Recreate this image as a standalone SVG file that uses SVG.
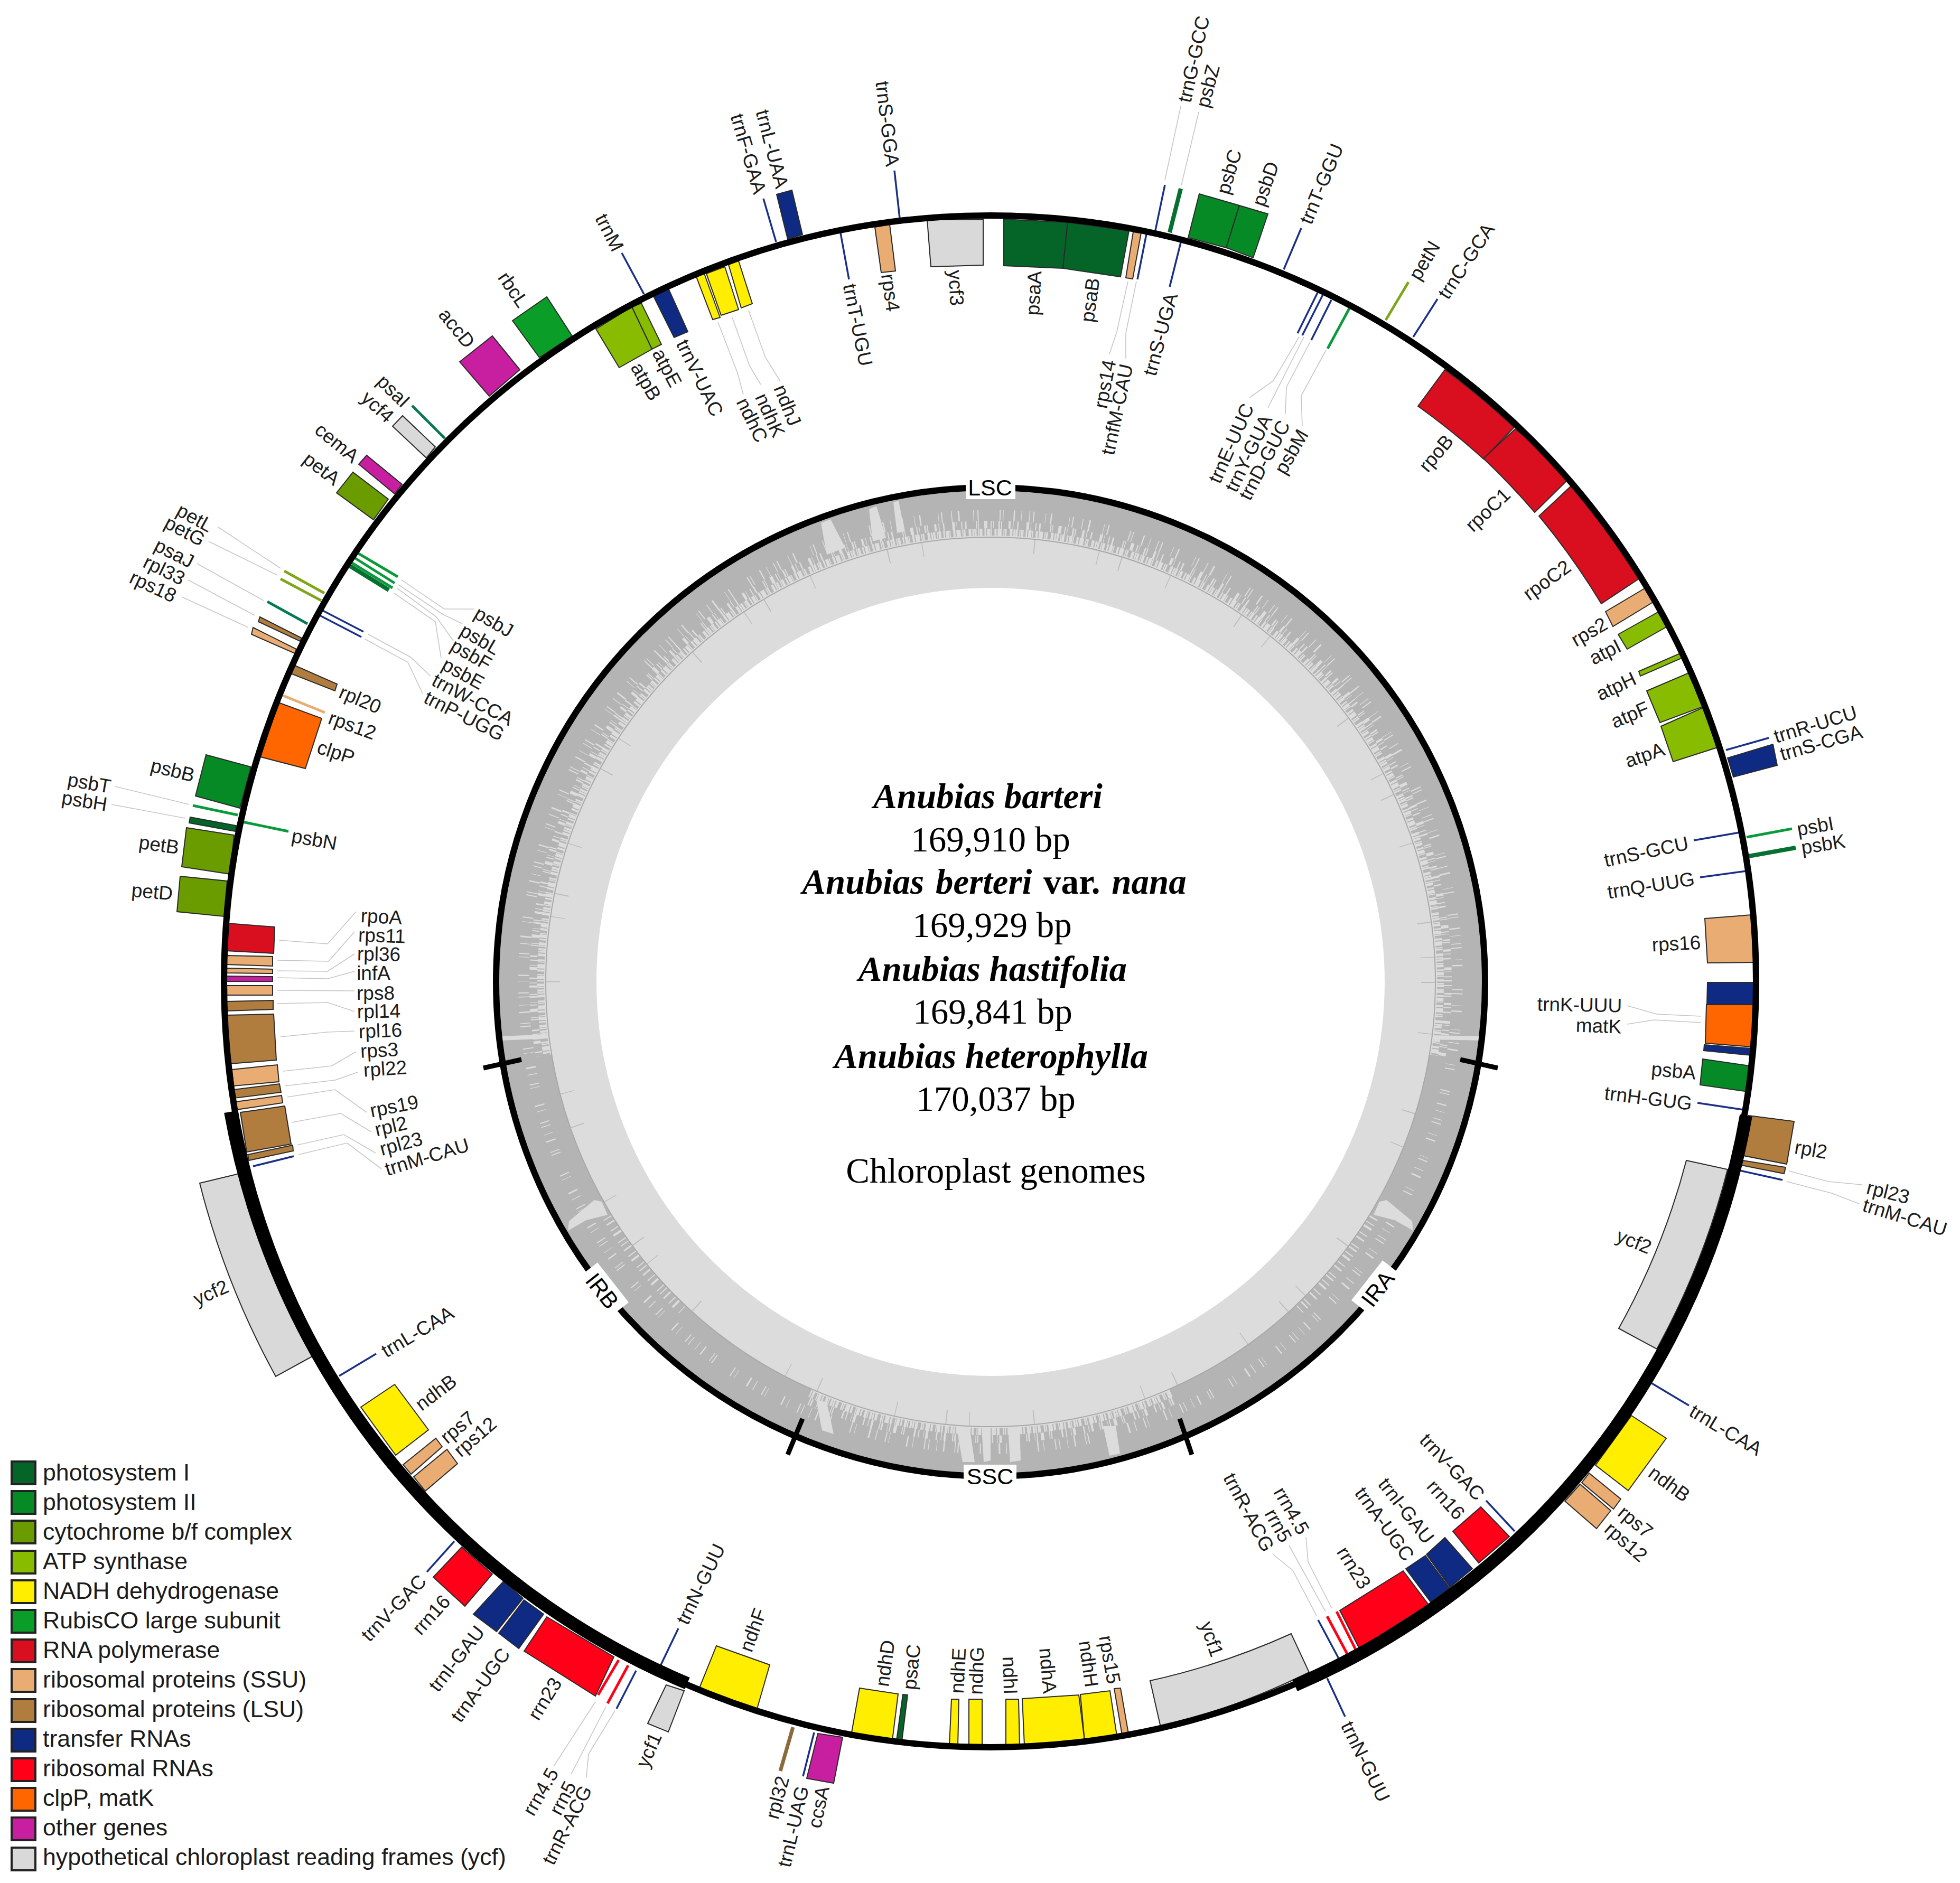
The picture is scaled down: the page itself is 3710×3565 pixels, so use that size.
<svg xmlns="http://www.w3.org/2000/svg" width="3710" height="3565" viewBox="0 0 3710 3565">
<style>
text{font-family:"Liberation Sans",Arial,sans-serif;fill:#1c1c1c}
.t{font-size:37px;text-anchor:middle}
.lg{font-size:44.7px}
.sec{font-size:43px;text-anchor:middle;fill:#000}
.c{font-family:"Liberation Serif","Times New Roman",serif;font-size:67px;text-anchor:middle;fill:#000}
.bi{font-weight:bold;font-style:italic}
.b{font-weight:bold}
.g{stroke:#2a2a2a;stroke-width:2;stroke-linejoin:miter}
.k{stroke:#222;stroke-width:4}
.psi{fill:#056529}.psii{fill:#068A25}.cyt{fill:#6A9C00}.atp{fill:#88BC00}.ndh{fill:#FFEE00}.rub{fill:#0A9E28}.pol{fill:#D90F1F}.ssu{fill:#E9AC72}.lsu{fill:#B07D3F}.trn{fill:#0E2A83}.rrn{fill:#FF0018}.clp{fill:#FF6600}.oth{fill:#C81EA0}.ycf{fill:#D9D9D9}
.lt{stroke:#1A2F86;stroke-width:3.5}
.lp1{stroke:#057A50;stroke-width:5}
.lp2{stroke:#0A9A3C;stroke-width:5}
.lp3{stroke:#05702F;stroke-width:8}
.lc{stroke:#7FA61A;stroke-width:5}
.ls{stroke:#E9AC72;stroke-width:5}
.lr{stroke:#FF0018;stroke-width:5}
.lb{stroke:#8A6A3A;stroke-width:7}
.lead{fill:none;stroke:#c6c6c6;stroke-width:1.6}
.gc{fill:none}
</style>
<rect width="3710" height="3565" fill="#fff"/>

<g id="gc-content">
<circle class="gc" cx="1875" cy="1859" r="841" stroke="#DCDCDC" stroke-width="190"/>
<circle class="gc" cx="1875" cy="1859" r="915" stroke="#B4B4B4" stroke-width="42"/>
<circle class="gc" cx="1875" cy="1859" r="884" stroke="#B4B4B4" stroke-width="22" stroke-dasharray="14 1.5 6 2 21 1 9 2.5 33 1 5 2 17 1.5 11 3 26 1 7 2 40 2 4 1.5 19 2.5 12 1"/>
<circle class="gc" cx="1875" cy="1859" r="866" stroke="#B4B4B4" stroke-width="16" stroke-dasharray="6 2 3 1 9 3 2 2 12 4 4 1.5 7 2.5 15 5 3 1 8 2 5 3 18 2 2 1.5 10 6"/>
<circle class="gc" cx="1875" cy="1859" r="852" stroke="#B4B4B4" stroke-width="14" stroke-dasharray="2 3 1 4 3 2 1 5 4 3 2 6 1 2 5 4 2 8 3 2 1 3 6 5"/>
<path class="gc" d="M2722 1999A858 858 0 0 1 2220 2645" stroke="#B4B4B4" stroke-width="34"/>
<path class="gc" d="M1028 1999A858 858 0 0 0 1530 2645" stroke="#B4B4B4" stroke-width="34"/>
<path class="gc" d="M2600 2305A852 852 0 0 1 2459 2480" stroke="#DCDCDC" stroke-width="18" stroke-dasharray="3 9 2 6 4 12 2 8 3 14 2 5"/>
<path class="gc" d="M1150 2305A852 852 0 0 0 1291 2480" stroke="#DCDCDC" stroke-width="18" stroke-dasharray="2 8 3 11 2 7 4 13 2 6"/>
<g fill="#DCDCDC">
<polygon points="1554,990 1572,983 1600,1037 1565,1050"/>
<polygon points="1645,964 1659,958 1677,1018 1652,1025"/>
<polygon points="1691,951 1701,948 1712,1006 1698,1009"/>
<polygon points="1858,2700 1875,2700 1875,2765 1862,2768"/>
<polygon points="1908,2700 1930,2700 1932,2765 1912,2768"/>
<polygon points="2088,2700 2112,2700 2120,2752 2100,2756"/>
<polygon points="1810,2700 1835,2700 1845,2768 1822,2768"/>
<polygon points="1545,2650 1565,2655 1578,2715 1556,2708"/>
<polygon points="2611,2275 2625,2272 2673,2312 2675,2330 2640,2310 2600,2300"/>
<polygon points="1139,2275 1125,2272 1077,2312 1075,2330 1110,2310 1150,2300"/>
<polygon points="947,1962 1040,1958 1040,1966 947,1970"/>
<polygon points="2710,1960 2803,1962 2803,1970 2710,1968"/>
</g>
<circle class="gc" cx="1875" cy="1859" r="842" stroke="#A8A8A8" stroke-width="2"/>
<circle class="gc" cx="1875" cy="1859" r="828" stroke="#BDBDBD" stroke-width="26" stroke-dasharray="2 95 1.5 150 2 64 1.5 210 2 120 1.5 42"/>
</g>

<g id="connectors">
<polyline class="lead" points="2235,201 2205,341"/>
<polyline class="lead" points="2269,212 2236,351"/>
<polyline class="lead" points="2100,670 2114,628 2135,533"/>
<polyline class="lead" points="2131,679 2131,631 2151,533"/>
<polyline class="lead" points="2365,753 2410,721 2459,638"/>
<polyline class="lead" points="2400,772 2468,638"/>
<polyline class="lead" points="2433,784 2435,733 2480,647"/>
<polyline class="lead" points="2465,807 2463,749 2510,663"/>
<polyline class="lead" points="1477,722 1449,677 1417,588"/>
<polyline class="lead" points="1440,728 1419,693 1386,601"/>
<polyline class="lead" points="1407,747 1396,706 1359,610"/>
<polyline class="lead" points="413,998 531,1076"/>
<polyline class="lead" points="395,1025 525,1089"/>
<polyline class="lead" points="373,1067 499,1137"/>
<polyline class="lead" points="356,1098 482,1165"/>
<polyline class="lead" points="344,1130 470,1188"/>
<polyline class="lead" points="898,1153 841,1153 760,1098"/>
<polyline class="lead" points="875,1181 838,1163 754,1107"/>
<polyline class="lead" points="858,1213 826,1168 752,1114"/>
<polyline class="lead" points="835,1246 824,1177 746,1123"/>
<polyline class="lead" points="815,1280 777,1244 697,1201"/>
<polyline class="lead" points="800,1313 772,1254 691,1210"/>
<polyline class="lead" points="218,1489 358,1523"/>
<polyline class="lead" points="211,1523 350,1549"/>
<polyline class="lead" points="674,1726 620,1787 528,1780"/>
<polyline class="lead" points="671,1764 622,1820 525,1818"/>
<polyline class="lead" points="671,1806 620,1839 525,1838"/>
<polyline class="lead" points="671,1839 620,1853 525,1851"/>
<polyline class="lead" points="671,1876 525,1875"/>
<polyline class="lead" points="671,1915 620,1898 525,1900"/>
<polyline class="lead" points="671,1952 620,1954 531,1963"/>
<polyline class="lead" points="674,1991 628,2018 536,2028"/>
<polyline class="lead" points="677,2030 634,2045 539,2056"/>
<polyline class="lead" points="694,2106 634,2063 544,2077"/>
<polyline class="lead" points="703,2143 645,2108 552,2125"/>
<polyline class="lead" points="711,2183 651,2148 562,2168"/>
<polyline class="lead" points="722,2213 657,2164 565,2186"/>
<polyline class="lead" points="3080,1904 3136,1920 3220,1924"/>
<polyline class="lead" points="3080,1939 3131,1931 3220,1936"/>
<polyline class="lead" points="3386,2217 3461,2237 3525,2243"/>
<polyline class="lead" points="3382,2237 3467,2259 3519,2279"/>
<polyline class="lead" points="2472,2910 2476,2957 2521,3045"/>
<polyline class="lead" points="2440,2926 2509,3051"/>
<polyline class="lead" points="2410,2943 2447,2973 2492,3059"/>
<polyline class="lead" points="1048,3344 1127,3222"/>
<polyline class="lead" points="1081,3359 1147,3231"/>
<polyline class="lead" points="1110,3365 1114,3321 1164,3239"/>
</g>

<g id="genes">
<g id="trnG-GCC"><line class="lt" x1="2205" y1="350" x2="2187" y2="436"/><text class="t" y="13" transform="translate(2259 112) rotate(-77.5)">trnG-GCC</text></g>
<g id="psbZ"><line class="lp3" x1="2235" y1="357" x2="2214" y2="440"/><text class="t" y="13" transform="translate(2286 163) rotate(-75)">psbZ</text></g>
<g id="psbC"><polygon class="g psii" points="2270,367 2346,389 2321,469 2249,450"/><text class="t" y="13" transform="translate(2326 325) rotate(-73.5)">psbC</text></g>
<g id="psbD"><polygon class="g psii" points="2346,389 2400,405 2372,488 2321,469"/><text class="t" y="13" transform="translate(2395 348) rotate(-71)">psbD</text></g>
<g id="trnT-GGU"><line class="lt" x1="2463" y1="432" x2="2430" y2="510"/><text class="t" y="13" transform="translate(2501 348) rotate(-67.5)">trnT-GGU</text></g>
<g id="petN"><line class="lc" x1="2666" y1="534" x2="2623" y2="606"/><text class="t" y="13" transform="translate(2696 493) rotate(-59)">petN</text></g>
<g id="trnC-GCA"><line class="lt" x1="2721" y1="566" x2="2675" y2="638"/><text class="t" y="13" transform="translate(2775 494) rotate(-56.5)">trnC-GCA</text></g>
<g id="psaA"><polygon class="g psi" points="1900,415 2021,421 2012,508 1900,503"/><text class="t" y="13" transform="translate(1956 555) rotate(-87)">psaA</text></g>
<g id="psaB"><polygon class="g psi" points="2021,421 2137,437 2121,524 2012,508"/><text class="t" y="13" transform="translate(2063 568) rotate(-82)">psaB</text></g>
<g id="rps14"><polygon class="g ssu" points="2145,439 2160,441 2144,528 2131,526"/><text class="t" y="13" transform="translate(2091 727) rotate(-79)">rps14</text></g>
<g id="trnfM-CAU"><line class="lt" x1="2170" y1="443" x2="2153" y2="529"/><text class="t" y="13" transform="translate(2114 775) rotate(-78)">trnfM-CAU</text></g>
<g id="trnS-UGA"><line class="lt" x1="2235" y1="459" x2="2214" y2="543"/><text class="t" y="13" transform="translate(2196 633) rotate(-75)">trnS-UGA</text></g>
<g id="trnE-UUC"><line class="lt" x1="2494" y1="554" x2="2456" y2="631"/><text class="t" y="13" transform="translate(2330 839) rotate(-66)">trnE-UUC</text></g>
<g id="trnY-GUA"><line class="lt" x1="2504" y1="558" x2="2465" y2="635"/><text class="t" y="13" transform="translate(2363 858) rotate(-64)">trnY-GUA</text></g>
<g id="trnD-GUC"><line class="lt" x1="2520" y1="568" x2="2482" y2="644"/><text class="t" y="13" transform="translate(2393 871) rotate(-62)">trnD-GUC</text></g>
<g id="psbM"><line class="lp2" x1="2554" y1="584" x2="2513" y2="660"/><text class="t" y="13" transform="translate(2444 855) rotate(-60)">psbM</text></g>
<g id="rpoB"><path class="g pol" d="M2735 700A1448 1448 0 0 1 2866 809L2808 869A1362 1362 0 0 0 2684 769Z"/><text class="t" y="13" transform="translate(2718 858) rotate(-50)">rpoB</text></g>
<g id="rpoC1"><path class="g pol" d="M2868 812A1448 1448 0 0 1 2972 904L2905 970A1360 1360 0 0 0 2808 868Z"/><text class="t" y="13" transform="translate(2816 965) rotate(-43.5)">rpoC1</text></g>
<g id="rpoC2"><path class="g pol" d="M2976 918A1448 1448 0 0 1 3105 1094L3031 1143A1360 1360 0 0 0 2913 977Z"/><text class="t" y="13" transform="translate(2928 1098) rotate(-36)">rpoC2</text></g>

<g id="ycf3"><polygon class="g ycf" points="1755,416 1861,416 1861,502 1762,505"/><text class="t" y="13" transform="translate(1810 545) rotate(87)">ycf3</text></g>
<g id="trnS-GGA"><line class="lt" x1="1693" y1="323" x2="1703" y2="413"/><text class="t" y="13" transform="translate(1680 234) rotate(83)">trnS-GGA</text></g>
<g id="rps4"><polygon class="g ssu" points="1656,430 1684,425 1695,513 1668,516"/><text class="t" y="13" transform="translate(1686 554) rotate(82)">rps4</text></g>
<g id="trnT-UGU"><line class="lt" x1="1591" y1="441" x2="1607" y2="529"/><text class="t" y="13" transform="translate(1624 615) rotate(78.5)">trnT-UGU</text></g>
<g id="trnL-UAA"><polygon class="g trn" points="1470,368 1499,360 1519,444 1491,453"/><text class="t" y="13" transform="translate(1462 282) rotate(75.5)">trnL-UAA</text></g>
<g id="trnF-GAA"><line class="lt" x1="1445" y1="376" x2="1469" y2="458"/><text class="t" y="13" transform="translate(1417 291) rotate(73.5)">trnF-GAA</text></g>
<g id="ndhJ"><polygon class="g ndh" points="1379,501 1398,494 1424,575 1403,583"/><text class="t" y="13" transform="translate(1491 767) rotate(68)">ndhJ</text></g>
<g id="ndhK"><polygon class="g ndh" points="1337,518 1372,505 1398,586 1365,597"/><text class="t" y="13" transform="translate(1458 786) rotate(66)">ndhK</text></g>
<g id="ndhC"><polygon class="g ndh" points="1318,524 1333,518 1363,601 1349,605"/><text class="t" y="13" transform="translate(1424 795) rotate(64)">ndhC</text></g>
<g id="trnV-UAC"><polygon class="g trn" points="1236,559 1266,548 1302,628 1276,639"/><text class="t" y="13" transform="translate(1325 715) rotate(64)">trnV-UAC</text></g>
<g id="trnM"><line class="lt" x1="1177" y1="479" x2="1219" y2="557"/><text class="t" y="13" transform="translate(1154 440) rotate(63)">trnM</text></g>
<g id="atpE"><polygon class="g atp" points="1196,581 1214,574 1252,652 1234,661"/><text class="t" y="13" transform="translate(1263 696) rotate(62)">atpE</text></g>
<g id="atpB"><polygon class="g atp" points="1128,623 1196,581 1234,661 1172,696"/><text class="t" y="13" transform="translate(1223 722) rotate(60)">atpB</text></g>
<g id="rbcL"><polygon class="g rub" points="970,607 1035,562 1083,636 1021,677"/><text class="t" y="13" transform="translate(972 548) rotate(55.5)">rbcL</text></g>
<g id="accD"><polygon class="g oth" points="870,685 932,636 984,700 926,750"/><text class="t" y="13" transform="translate(865 621) rotate(51)">accD</text></g>
<g id="psaI"><line class="lp1" x1="780" y1="768" x2="842" y2="830"/><text class="t" y="13" transform="translate(745 740) rotate(44.5)">psaI</text></g>
<g id="ycf4"><polygon class="g ycf" points="743,807 762,787 824,846 807,867"/><text class="t" y="13" transform="translate(715 770) rotate(43)">ycf4</text></g>
<g id="cemA"><polygon class="g oth" points="679,879 694,862 761,917 747,935"/><text class="t" y="13" transform="translate(638 838) rotate(39.5)">cemA</text></g>
<g id="petA"><polygon class="g cyt" points="637,933 668,894 735,945 707,984"/><text class="t" y="13" transform="translate(609 887) rotate(37.5)">petA</text></g>

<g id="psbJ"><line class="lp2" x1="677" y1="1047" x2="753" y2="1092"/><text class="t" y="13" transform="translate(935 1177) rotate(30)">psbJ</text></g>
<g id="psbL"><line class="lp2" x1="671" y1="1056" x2="747" y2="1104"/><text class="t" y="13" transform="translate(909 1210) rotate(30)">psbL</text></g>
<g id="psbF"><line class="lp2" x1="665" y1="1065" x2="743" y2="1113"/><text class="t" y="13" transform="translate(892 1239) rotate(30)">psbF</text></g>
<g id="psbE"><line class="lp3" x1="660" y1="1070" x2="736" y2="1117"/><text class="t" y="13" transform="translate(877 1275) rotate(29)">psbE</text></g>
<g id="petL"><line class="lc" x1="538" y1="1081" x2="614" y2="1123"/><text class="t" y="13" transform="translate(369 980) rotate(29)">petL</text></g>
<g id="petG"><line class="lc" x1="531" y1="1096" x2="608" y2="1137"/><text class="t" y="13" transform="translate(350 1005) rotate(28)">petG</text></g>
<g id="trnW-CCA"><line class="lt" x1="611" y1="1156" x2="688" y2="1196"/><text class="t" y="13" transform="translate(895 1324) rotate(28)">trnW-CCA</text></g>
<g id="trnP-UGG"><line class="lt" x1="605" y1="1165" x2="684" y2="1206"/><text class="t" y="13" transform="translate(879 1355) rotate(27)">trnP-UGG</text></g>
<g id="psaJ"><line class="lp1" x1="506" y1="1139" x2="582" y2="1181"/><text class="t" y="13" transform="translate(330 1047) rotate(27)">psaJ</text></g>
<g id="rpl33"><polygon class="g lsu" points="492,1168 571,1208 568,1214 489,1177"/><text class="t" y="13" transform="translate(311 1079) rotate(26)">rpl33</text></g>
<g id="rps18"><polygon class="g ssu" points="479,1188 561,1229 558,1237 476,1201"/><text class="t" y="13" transform="translate(290 1110) rotate(25)">rps18</text></g>
<g id="rpl20"><polygon class="g lsu" points="556,1259 638,1295 634,1308 550,1275"/><text class="t" y="13" transform="translate(682 1324) rotate(23)">rpl20</text></g>
<g id="rps12-5"><line class="ls" x1="536" y1="1317" x2="615" y2="1349"/><text class="t" y="13" transform="translate(667 1373) rotate(20)">rps12</text></g>
<g id="clpP"><polygon class="g clp" points="527,1330 609,1360 578,1455 493,1433"/><text class="t" y="13" transform="translate(636 1424) rotate(18)">clpP</text></g>
<g id="psbB"><polygon class="g psii" points="390,1429 475,1452 454,1530 370,1507"/><text class="t" y="13" transform="translate(327 1458) rotate(14)">psbB</text></g>
<g id="psbT"><line class="lp2" x1="365" y1="1525" x2="450" y2="1543"/><text class="t" y="13" transform="translate(169 1482) rotate(10)">psbT</text></g>
<g id="psbN"><line class="lp2" x1="459" y1="1556" x2="546" y2="1574"/><text class="t" y="13" transform="translate(595 1589) rotate(10)">psbN</text></g>
<g id="psbH"><polygon class="g psi" points="360,1547 447,1563 446,1574 358,1558"/><text class="t" y="13" transform="translate(160 1516) rotate(9)">psbH</text></g>
<g id="petB"><polygon class="g cyt" points="353,1567 443,1581 436,1655 344,1641"/><text class="t" y="13" transform="translate(301 1599) rotate(8)">petB</text></g>
<g id="petD"><polygon class="g cyt" points="341,1659 430,1668 424,1735 335,1726"/><text class="t" y="13" transform="translate(288 1688) rotate(5)">petD</text></g>
<g id="rpoA"><polygon class="g pol" points="430,1748 520,1755 518,1805 428,1800"/><text class="t" y="13" transform="translate(722 1735) rotate(3)">rpoA</text></g>
<g id="rps11"><polygon class="g ssu" points="428,1809 516,1811 516,1829 428,1826"/><text class="t" y="13" transform="translate(723 1771) rotate(2)">rps11</text></g>
<g id="rpl36"><polygon class="g ssu" points="428,1833 516,1835 516,1843 428,1842"/><text class="t" y="13" transform="translate(717 1806) rotate(1)">rpl36</text></g>
<g id="infA"><polygon class="g oth" points="428,1848 516,1849 516,1858 428,1858"/><text class="t" y="13" transform="translate(707 1842)">infA</text></g>
<g id="rps8"><polygon class="g ssu" points="428,1866 516,1866 516,1884 428,1884"/><text class="t" y="13" transform="translate(711 1880)">rps8</text></g>
<g id="rpl14"><polygon class="g lsu" points="428,1896 517,1894 517,1911 428,1914"/><text class="t" y="13" transform="translate(717 1914) rotate(-1)">rpl14</text></g>
<g id="rpl16"><polygon class="g lsu" points="428,1922 518,1920 523,2007 436,2014"/><text class="t" y="13" transform="translate(720 1951) rotate(-2)">rpl16</text></g>
<g id="rps3"><polygon class="g ssu" points="439,2025 525,2016 528,2048 442,2056"/><text class="t" y="13" transform="translate(718 1988) rotate(-3)">rps3</text></g>
<g id="rpl22"><polygon class="g lsu" points="442,2063 529,2052 532,2068 444,2079"/><text class="t" y="13" transform="translate(729 2023) rotate(-4)">rpl22</text></g>
<g id="rps19"><polygon class="g ssu" points="446,2086 533,2074 535,2088 447,2101"/><text class="t" y="13" transform="translate(746 2094) rotate(-11)">rps19</text></g>
<g id="rpl2-b"><polygon class="g lsu" points="455,2106 539,2094 551,2166 467,2181"/><text class="t" y="13" transform="translate(740 2132) rotate(-13)">rpl2</text></g>
<g id="rpl23-b"><polygon class="g lsu" points="469,2186 554,2168 555,2179 471,2197"/><text class="t" y="13" transform="translate(759 2165) rotate(-15)">rpl23</text></g>
<g id="trnM-CAU-b"><line class="lt" x1="479" y1="2208" x2="556" y2="2189"/><text class="t" y="13" transform="translate(808 2190) rotate(-17)">trnM-CAU</text></g>
<g id="ycf2-b"><path class="g ycf" d="M378 2240L457 2221A1463 1463 0 0 0 591 2568L522 2606A1544 1544 0 0 1 378 2240Z"/><text class="t" y="13" transform="translate(399 2447) rotate(-24)">ycf2</text></g>
<g id="trnL-CAA-b"><line class="lt" x1="642" y1="2605" x2="712" y2="2563"/><text class="t" y="13" transform="translate(790 2521) rotate(-31)">trnL-CAA</text></g>
<g id="ndhB-b"><polygon class="g ndh" points="683,2664 747,2621 811,2707 749,2755"/><text class="t" y="13" transform="translate(825 2636) rotate(-37)">ndhB</text></g>
<g id="rps7-b"><polygon class="g ssu" points="763,2773 825,2723 837,2739 778,2791"/><text class="t" y="13" transform="translate(866 2702) rotate(-40)">rps7</text></g>
<g id="rps12-b"><polygon class="g ssu" points="783,2796 846,2744 866,2771 805,2823"/><text class="t" y="13" transform="translate(899 2720) rotate(-41)">rps12</text></g>
<g id="trnV-GAC-b"><line class="lt" x1="860" y1="2918" x2="808" y2="2976"/><text class="t" y="13" transform="translate(745 3044) rotate(-46)">trnV-GAC</text></g>
<g id="rrn16-b"><polygon class="g rrn" points="874,2929 932,2980 880,3041 820,2986"/><text class="t" y="13" transform="translate(816 3057) rotate(-48)">rrn16</text></g>
<g id="trnI-GAU-b"><polygon class="g trn" points="953,2994 990,3026 940,3089 896,3056"/><text class="t" y="13" transform="translate(864 3140) rotate(-52)">trnI-GAU</text></g>
<g id="trnA-UGC-b"><polygon class="g trn" points="992,3029 1029,3056 982,3121 944,3092"/><text class="t" y="13" transform="translate(909 3190) rotate(-54)">trnA-UGC</text></g>
<g id="rrn23-b"><polygon class="g rrn" points="1035,3061 1162,3137 1127,3211 992,3126"/><text class="t" y="13" transform="translate(1031 3216) rotate(-58)">rrn23</text></g>
<g id="rrn4_5-b"><line class="lr" x1="1171" y1="3143" x2="1132" y2="3209"/><text class="t" y="13" transform="translate(1023 3392) rotate(-60)">rrn4.5</text></g>
<g id="rrn5-b"><line class="lr" x1="1189" y1="3153" x2="1150" y2="3225"/><text class="t" y="13" transform="translate(1065 3404) rotate(-62)">rrn5</text></g>
<g id="trnR-ACG-b"><line class="lt" x1="1204" y1="3163" x2="1167" y2="3235"/><text class="t" y="13" transform="translate(1073 3455) rotate(-63)">trnR-ACG</text></g>
<g id="trnN-GUU-b"><line class="lt" x1="1249" y1="3156" x2="1284" y2="3083"/><text class="t" y="13" transform="translate(1326 2999) rotate(-64)">trnN-GUU</text></g>
<g id="ycf1-b"><polygon class="g ycf" points="1261,3190 1295,3201 1265,3279 1226,3263"/><text class="t" y="13" transform="translate(1228 3313) rotate(-66)">ycf1</text></g>
<g id="ndhF"><polygon class="g ndh" points="1356,3116 1457,3152 1433,3235 1323,3198"/><text class="t" y="13" transform="translate(1425 3086) rotate(-70)">ndhF</text></g>
<g id="rpl32"><line class="lb" x1="1501" y1="3270" x2="1477" y2="3353"/><text class="t" y="13" transform="translate(1471 3403) rotate(-75)">rpl32</text></g>
<g id="trnL-UAG"><line class="lt" x1="1541" y1="3280" x2="1520" y2="3363"/><text class="t" y="13" transform="translate(1501 3458) rotate(-77)">trnL-UAG</text></g>
<g id="ccsA"><polygon class="g oth" points="1548,3282 1595,3289 1578,3376 1527,3367"/><text class="t" y="13" transform="translate(1549 3421) rotate(-78)">ccsA</text></g>
<g id="ndhD"><polygon class="g ndh" points="1627,3196 1700,3207 1689,3295 1612,3280"/><text class="t" y="13" transform="translate(1675 3149) rotate(-82)">ndhD</text></g>
<g id="psaC"><polygon class="g psi" points="1709,3208 1718,3209 1707,3297 1697,3295"/><text class="t" y="13" transform="translate(1725 3156) rotate(-84)">psaC</text></g>
<g id="ndhE"><polygon class="g ndh" points="1801,3217 1815,3217 1813,3305 1797,3304"/><text class="t" y="13" transform="translate(1813 3163) rotate(-87)">ndhE</text></g>
<g id="ndhG"><polygon class="g ndh" points="1834,3217 1859,3217 1859,3306 1834,3305"/><text class="t" y="13" transform="translate(1848 3163) rotate(-88)">ndhG</text></g>
<g id="ndhI"><polygon class="g ndh" points="1904,3217 1928,3217 1930,3305 1904,3305"/><text class="t" y="13" transform="translate(1912 3172) rotate(88)">ndhI</text></g>
<g id="ndhA"><polygon class="g ndh" points="1935,3216 2042,3209 2053,3296 1939,3304"/><text class="t" y="13" transform="translate(1984 3163) rotate(85)">ndhA</text></g>
<g id="ndhH"><polygon class="g ndh" points="2045,3208 2101,3201 2114,3286 2053,3296"/><text class="t" y="13" transform="translate(2061 3150) rotate(82)">ndhH</text></g>
<g id="rps15"><polygon class="g ssu" points="2109,3197 2121,3196 2136,3282 2124,3285"/><text class="t" y="13" transform="translate(2101 3142) rotate(80)">rps15</text></g>
<g id="ycf1-a"><path class="g ycf" d="M2177 3182A1358 1358 0 0 0 2444 3093L2478 3166A1445 1445 0 0 1 2197 3270Z"/><text class="t" y="13" transform="translate(2294 3103) rotate(71)">ycf1</text></g>
<g id="trnN-GUU-a"><line class="lt" x1="2512" y1="3177" x2="2546" y2="3250"/><text class="t" y="13" transform="translate(2585 3335) rotate(64)">trnN-GUU</text></g>
<g id="trnR-ACG-a"><line class="lt" x1="2495" y1="3067" x2="2534" y2="3140"/><text class="t" y="13" transform="translate(2364 2863) rotate(62)">trnR-ACG</text></g>
<g id="rrn5-a"><line class="lr" x1="2512" y1="3060" x2="2551" y2="3133"/><text class="t" y="13" transform="translate(2420 2888) rotate(61)">rrn5</text></g>
<g id="rrn4_5-a"><line class="lr" x1="2530" y1="3051" x2="2567" y2="3125"/><text class="t" y="13" transform="translate(2445 2860) rotate(60)">rrn4.5</text></g>
<g id="rrn23-a"><polygon class="g rrn" points="2536,3049 2656,2974 2704,3038 2573,3121"/><text class="t" y="13" transform="translate(2563 2968) rotate(58)">rrn23</text></g>
<g id="trnA-UGC-a"><polygon class="g trn" points="2661,2970 2698,2945 2744,3007 2708,3033"/><text class="t" y="13" transform="translate(2621 2885) rotate(54)">trnA-UGC</text></g>
<g id="trnI-GAU-a"><polygon class="g trn" points="2700,2943 2735,2911 2787,2970 2745,3005"/><text class="t" y="13" transform="translate(2662 2860) rotate(52)">trnI-GAU</text></g>
<g id="rrn16-a"><polygon class="g rrn" points="2750,2899 2803,2853 2857,2909 2799,2959"/><text class="t" y="13" transform="translate(2737 2839) rotate(48)">rrn16</text></g>
<g id="trnV-GAC-a"><line class="lt" x1="2813" y1="2841" x2="2867" y2="2899"/><text class="t" y="13" transform="translate(2749 2777) rotate(46.5)">trnV-GAC</text></g>
<g id="rps12-a"><polygon class="g ssu" points="2991,2810 3049,2860 3022,2894 2962,2842"/><text class="t" y="13" transform="translate(3078 2919) rotate(41)">rps12</text></g>
<g id="rps7-a"><polygon class="g ssu" points="3008,2789 3068,2838 3054,2857 2994,2807"/><text class="t" y="13" transform="translate(3096 2881) rotate(40)">rps7</text></g>
<g id="ndhB-a"><polygon class="g ndh" points="3088,2680 3154,2723 3082,2822 3020,2774"/><text class="t" y="13" transform="translate(3160 2809) rotate(36.5)">ndhB</text></g>
<g id="trnL-CAA-a"><line class="lt" x1="3125" y1="2618" x2="3197" y2="2661"/><text class="t" y="13" transform="translate(3267 2707) rotate(31)">trnL-CAA</text></g>
<g id="ycf2-a"><path class="g ycf" d="M3192 2197L3270 2214A1441 1441 0 0 1 3136 2554L3064 2515A1360 1360 0 0 0 3192 2197Z"/><text class="t" y="13" transform="translate(3093 2350) rotate(22)">ycf2</text></g>
<g id="trnM-CAU-a"><line class="lt" x1="3293" y1="2216" x2="3374" y2="2234"/><text class="t" y="13" transform="translate(3606 2304) rotate(17)">trnM-CAU</text></g>
<g id="rpl23-a"><polygon class="g lsu" points="3299,2197 3380,2210 3377,2222 3296,2206"/><text class="t" y="13" transform="translate(3574 2257) rotate(14)">rpl23</text></g>
<g id="rpl2-a"><polygon class="g lsu" points="3310,2112 3396,2123 3382,2204 3300,2188"/><text class="t" y="13" transform="translate(3428 2176) rotate(10)">rpl2</text></g>
<g id="trnH-GUG"><line class="lt" x1="3213" y1="2088" x2="3300" y2="2101"/><text class="t" y="13" transform="translate(3120 2079) rotate(7)">trnH-GUG</text></g>
<g id="psbA"><polygon class="g psii" points="3223,2005 3313,2018 3309,2067 3218,2054"/><text class="t" y="13" transform="translate(3168 2027) rotate(5)">psbA</text></g>
<g id="trnK-UUU"><polygon class="g trn" points="3226,1978 3316,1985 3315,1998 3225,1989"/><polygon class="g trn" points="3232,1860 3320,1860 3319,1902 3231,1902"/><text class="t" y="13" transform="translate(2990 1902) rotate(1)">trnK-UUU</text></g>
<g id="matK"><polygon class="g clp" points="3230,1902 3318,1902 3316,1982 3228,1975"/><text class="t" y="13" transform="translate(3026 1942) rotate(2)">matK</text></g>
<g id="rps16"><polygon class="g ssu" points="3227,1739 3316,1732 3321,1822 3232,1823"/><text class="t" y="13" transform="translate(3173 1786) rotate(-3)">rps16</text></g>
<g id="trnQ-UUG"><line class="lt" x1="3218" y1="1661" x2="3306" y2="1649"/><text class="t" y="13" transform="translate(3125 1676) rotate(-9)">trnQ-UUG</text></g>
<g id="psbK"><line class="lp3" x1="3310" y1="1621" x2="3399" y2="1605"/><text class="t" y="13" transform="translate(3451 1598) rotate(-9)">psbK</text></g>
<g id="trnS-GCU"><line class="lt" x1="3206" y1="1591" x2="3293" y2="1576"/><text class="t" y="13" transform="translate(3116 1612) rotate(-12)">trnS-GCU</text></g>
<g id="psbI"><line class="lp2" x1="3306" y1="1585" x2="3392" y2="1569"/><text class="t" y="13" transform="translate(3436 1564) rotate(-10)">psbI</text></g>
<g id="trnS-CGA"><polygon class="g trn" points="3270,1435 3356,1409 3364,1449 3281,1471"/><text class="t" y="13" transform="translate(3447 1406) rotate(-16)">trnS-CGA</text></g>
<g id="trnR-UCU"><line class="lt" x1="3267" y1="1420" x2="3348" y2="1397"/><text class="t" y="13" transform="translate(3436 1371) rotate(-17)">trnR-UCU</text></g>
<g id="atpA"><polygon class="g atp" points="3144,1375 3225,1339 3251,1415 3167,1442"/><text class="t" y="13" transform="translate(3113 1429) rotate(-19)">atpA</text></g>
<g id="atpF"><polygon class="g atp" points="3117,1308 3201,1272 3223,1338 3142,1368"/><text class="t" y="13" transform="translate(3085 1353) rotate(-23)">atpF</text></g>
<g id="atpH"><polygon class="g atp" points="3102,1271 3180,1237 3183,1246 3105,1280"/><text class="t" y="13" transform="translate(3059 1299) rotate(-25)">atpH</text></g>
<g id="atpI"><polygon class="g atp" points="3063,1201 3138,1159 3156,1186 3080,1229"/><text class="t" y="13" transform="translate(3038 1234) rotate(-27)">atpI</text></g>
<g id="rps2"><polygon class="g ssu" points="3039,1158 3113,1114 3129,1140 3053,1186"/><text class="t" y="13" transform="translate(3008 1196) rotate(-30)">rps2</text></g>
</g>

<g id="map-ring" fill="none" stroke="#000">
<circle cx="1874" cy="1858" r="1450" stroke-width="12"/>
<path d="M436 2105A1448 1448 0 0 0 1301 3187" stroke-width="24"/>
<path d="M3305 2112A1448 1448 0 0 1 2451 3191" stroke-width="24"/>
</g>

<g id="sections">
<circle cx="1875" cy="1859" r="936" fill="none" stroke="#000" stroke-width="12"/>
<g stroke="#000" stroke-width="9">
<line x1="2764" y1="2006" x2="2835" y2="2022"/>
<line x1="915" y1="2022" x2="987" y2="2006"/>
<line x1="1491" y1="2754" x2="1519" y2="2686"/>
<line x1="2256" y1="2754" x2="2233" y2="2686"/>
</g>
<g id="LSC"><rect x="1828" y="900" width="94" height="45" fill="#fff"/><text class="sec" x="1874" y="938">LSC</text></g>
<g id="SSC"><rect x="1824" y="2773" width="100" height="44" fill="#fff"/><text class="sec" x="1874" y="2810">SSC</text></g>
<g id="IRA"><rect x="-48" y="-26" width="96" height="52" fill="#fff" transform="translate(2608 2440) rotate(-52)"/><text class="sec" y="15" transform="translate(2608 2440) rotate(-52)">IRA</text></g>
<g id="IRB"><rect x="-48" y="-26" width="96" height="52" fill="#fff" transform="translate(1140 2444) rotate(52)"/><text class="sec" y="15" transform="translate(1140 2444) rotate(52)">IRB</text></g>
</g>

<g id="title">
<text class="c bi" x="1870" y="1530">Anubias barteri</text>
<text class="c" x="1875" y="1612">169,910 bp</text>
<text class="c" x="1882" y="1692" word-spacing="5"><tspan class="bi">Anubias berteri</tspan> <tspan class="b">var.</tspan> <tspan class="bi">nana</tspan></text>
<text class="c" x="1878" y="1774">169,929 bp</text>
<text class="c bi" x="1879" y="1857">Anubias hastifolia</text>
<text class="c" x="1879" y="1938">169,841 bp</text>
<text class="c bi" x="1876" y="2022">Anubias heterophylla</text>
<text class="c" x="1885" y="2103">170,037 bp</text>
<text class="c" x="1885" y="2239">Chloroplast genomes</text>
</g>

<g id="legend">
<g id="lg1"><rect class="k psi" x="22" y="2767" width="45" height="43"/><text class="lg" x="81" y="2803">photosystem I</text></g>
<g id="lg2"><rect class="k psii" x="22" y="2823" width="45" height="43"/><text class="lg" x="81" y="2859">photosystem II</text></g>
<g id="lg3"><rect class="k cyt" x="22" y="2879" width="45" height="43"/><text class="lg" x="81" y="2915">cytochrome b/f complex</text></g>
<g id="lg4"><rect class="k atp" x="22" y="2936" width="45" height="43"/><text class="lg" x="81" y="2971">ATP synthase</text></g>
<g id="lg5"><rect class="k ndh" x="22" y="2992" width="45" height="43"/><text class="lg" x="81" y="3027">NADH dehydrogenase</text></g>
<g id="lg6"><rect class="k rub" x="22" y="3048" width="45" height="43"/><text class="lg" x="81" y="3083">RubisCO large subunit</text></g>
<g id="lg7"><rect class="k pol" x="22" y="3104" width="45" height="43"/><text class="lg" x="81" y="3139">RNA polymerase</text></g>
<g id="lg8"><rect class="k ssu" x="22" y="3160" width="45" height="43"/><text class="lg" x="81" y="3195">ribosomal proteins (SSU)</text></g>
<g id="lg9"><rect class="k lsu" x="22" y="3217" width="45" height="43"/><text class="lg" x="81" y="3251">ribosomal proteins (LSU)</text></g>
<g id="lg10"><rect class="k trn" x="22" y="3273" width="45" height="43"/><text class="lg" x="81" y="3307">transfer RNAs</text></g>
<g id="lg11"><rect class="k rrn" x="22" y="3329" width="45" height="43"/><text class="lg" x="81" y="3363">ribosomal RNAs</text></g>
<g id="lg12"><rect class="k clp" x="22" y="3385" width="45" height="43"/><text class="lg" x="81" y="3419">clpP, matK</text></g>
<g id="lg13"><rect class="k oth" x="22" y="3441" width="45" height="43"/><text class="lg" x="81" y="3475">other genes</text></g>
<g id="lg14"><rect class="k ycf" x="22" y="3498" width="45" height="43"/><text class="lg" x="81" y="3531">hypothetical chloroplast reading frames (ycf)</text></g>
</g>
</svg>
